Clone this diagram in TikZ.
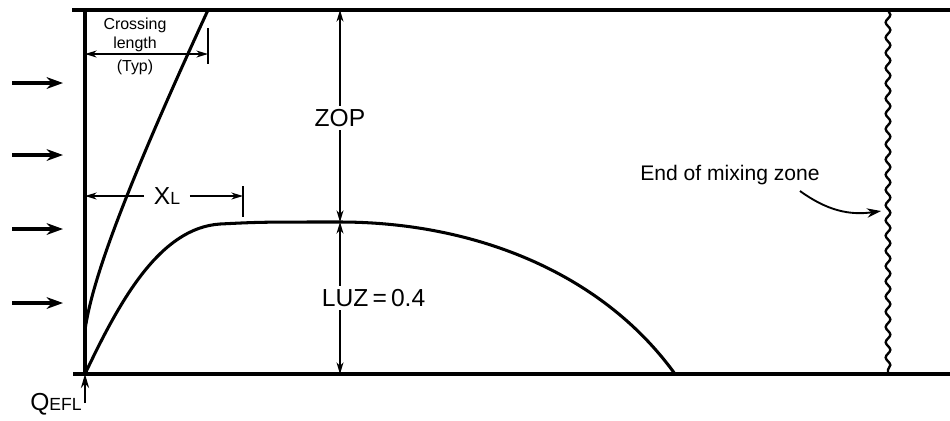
\documentclass[tikz,border=0pt]{standalone}
\usepackage{fontspec}
\setmainfont{Liberation Sans}
\usetikzlibrary{arrows.meta, positioning, decorations.pathmorphing, calc}

\begin{document}
\begin{tikzpicture}[
  x=0.015cm, y=-0.015cm,
  >=Stealth,
  wall/.style={line width=1.3pt},
  plume/.style={line width=1.3pt},
  dim/.style={line width=0.5pt, {Stealth[length=5pt,width=3pt]}-{Stealth[length=5pt,width=3pt]}},
  dimend/.style={line width=0.5pt, -{Stealth[length=5pt,width=3pt]}},
  flow/.style={line width=1.3pt, -{Stealth[length=7pt,width=5pt]}},
  lbl/.style={font=\fontsize{10.5}{12}\selectfont, inner sep=1.5pt, fill=white},
  note/.style={font=\fontsize{6.8}{7.8}\selectfont, align=center, inner sep=0.5pt},
]
  \useasboundingbox (0,0) rectangle (950,420);

  % channel walls
  \coordinate (topL) at (72,10);
  \coordinate (topR) at (950,10);
  \coordinate (botL) at (73,374);
  \coordinate (botR) at (950,374);
  \coordinate (src) at (85,374);
  \draw[wall] (topL) -- (topR);
  \draw[wall] (botL) -- (botR);
  \draw[wall] (85,10) -- (src);

  % incoming flow
  \foreach \y in {83,155,229,303}
    \draw[flow] (12,\y) -- (63,\y);

  % crossing line and plume boundary
  \draw[plume] (85,330) .. controls (92,280) and (125,190) .. (208,10);
  \coordinate (peak) at (340,222);
  \draw[plume] (src) .. controls (120,300) and (160,228) .. (220,224)
    .. controls (260,222) .. (peak)
    .. controls (470,222) and (600,270) .. (675,374);

  % crossing length
  \node[note] (cross) at (135,35) {Crossing\\length};
  \node[note] (typ) at (135,67) {(Typ)};
  \draw[dim] (85,54) -- (208,54);
  \draw[line width=0.5pt] (208,28) -- (208,64);

  % XL
  \node[lbl, fill=none, inner sep=4pt] (xl) at (167,196) {X{\fontsize{7.5}{8}\selectfont L}};
  \draw[dimend] (xl.west) -- (85,196);
  \draw[dimend] (xl.east) -- (243,196);
  \draw[line width=0.5pt] (243,186) -- (243,217);

  % ZOP and LUZ
  \coordinate (zopT) at (340,10);
  \coordinate (luzB) at (340,374);
  \draw[dim] (zopT) -- (peak);
  \draw[dim] (peak) -- (luzB);
  \node[lbl] (zop) at (340,118) {ZOP};
  \node[lbl, anchor=west] (luz) at (318,298) {LUZ\,=\,0.4};

  % end of mixing zone
  \coordinate (mixT) at (888,10);
  \coordinate (mixB) at (888,374);
  \draw[line width=1pt, decorate, decoration={snake, segment length=6.5pt, amplitude=1pt}] (mixT) -- (mixB);
  \node[font=\fontsize{9}{11}\selectfont] (mix) at (730,175) {End of mixing zone};
  \coordinate (mixtip) at (881,211);
  \draw[line width=0.8pt, -{Stealth[length=6pt,width=4pt]}] (800,191) to[bend right=22] (mixtip);

  % effluent
  \node[font=\fontsize{10.5}{12}\selectfont, inner sep=1pt] (qefl) at (56,404) {Q{\fontsize{7.5}{8}\selectfont EFL}};
  \draw[line width=0.8pt, -{Stealth[length=6pt,width=3.5pt]}] (85,403) -- (src);
\end{tikzpicture}
\end{document}
